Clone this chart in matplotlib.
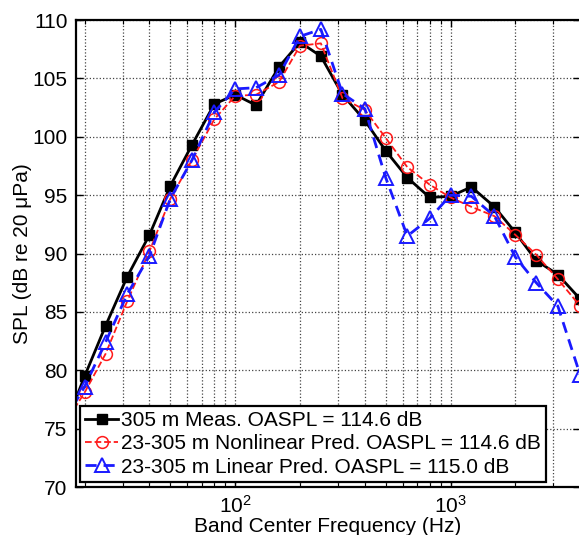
import matplotlib
matplotlib.use("Agg")
import matplotlib.pyplot as plt
from matplotlib.ticker import LogLocator, NullFormatter, MultipleLocator

plt.rcParams["font.family"] = ["Liberation Sans", "DejaVu Sans"]
plt.rcParams["mathtext.fontset"] = "custom"
plt.rcParams["mathtext.rm"] = "Liberation Sans"
plt.rcParams["mathtext.it"] = "Liberation Sans:italic"

# one-third octave band centres (Hz)
freq = [16, 20, 25, 31.5, 40, 50, 63, 80, 100, 125, 160, 200, 250, 315,
        400, 500, 630, 800, 1000, 1250, 1600, 2000, 2500, 3150, 4000]

# band SPL, dB re 20 uPa
meas = [74.9, 79.5, 83.8, 88.0, 91.6, 95.8, 99.3, 102.8, 103.6, 102.7,
        106.0, 108.1, 106.9, 103.6, 101.4, 98.8, 96.5, 94.8, 94.9, 95.7,
        94.0, 91.8, 89.4, 88.2, 86.1]
nonlin = [75.3, 78.1, 81.4, 85.9, 90.2, 94.7, 98.0, 101.5, 103.5, 103.6,
          104.7, 107.8, 108.0, 103.3, 102.3, 99.9, 97.4, 95.9, 94.8, 94.0,
          93.2, 91.6, 89.9, 87.8, 85.5]
lin = [75.6, 78.6, 82.4, 86.5, 89.8, 94.7, 98.0, 102.1, 104.1, 104.2,
       105.3, 108.6, 109.2, 103.7, 102.4, 96.5, 91.5, 93.0, 95.0, 94.9,
       93.2, 89.7, 87.5, 85.5, 79.6]

labels = ["305 m Meas. OASPL = 114.6 dB",
          "23-305 m Nonlinear Pred. OASPL = 114.6 dB",
          "23-305 m Linear Pred. OASPL = 115.0 dB"]

fs = 15

fig = plt.figure(figsize=(5.79, 5.35), dpi=100)
ax = fig.add_axes([0.131, 0.0897, 0.871, 0.8729])

ax.semilogx(freq, meas, "-", color="k", lw=2.0, marker="s", ms=7.5,
            mfc="k", mec="k", label=labels[0])
ax.semilogx(freq, nonlin, "--", color="#ff1a1a", lw=1.3, marker="o", ms=8.5,
            mfc="none", mec="#ff1a1a", mew=1.1, label=labels[1])
ax.semilogx(freq, lin, "--", color="#1a1aff", lw=2.0, dashes=(4, 2.5),
            marker="^", ms=9.5, mfc="none", mec="#1a1aff", mew=1.4,
            label=labels[2])

ax.set_xlim(18.2, 4000)
ax.set_ylim(70, 110)
ax.yaxis.set_major_locator(MultipleLocator(5))
ax.xaxis.set_major_locator(LogLocator(base=10))
ax.xaxis.set_minor_locator(LogLocator(base=10, subs=range(2, 10)))
ax.xaxis.set_minor_formatter(NullFormatter())

ax.grid(True, which="both", axis="x", ls=":", color="#444444", lw=0.9)
ax.grid(True, which="major", axis="y", ls=":", color="#444444", lw=0.9)

ax.tick_params(which="both", direction="in", top=True, right=True,
               labelsize=fs, pad=6)
ax.tick_params(which="major", length=5, width=1)
ax.tick_params(which="minor", length=3, width=0.8)
for s in ax.spines.values():
    s.set_linewidth(1.6)

ax.set_xlabel("Band Center Frequency (Hz)", fontsize=fs, labelpad=0)
ax.set_ylabel("SPL (dB re 20 \u03bcPa)", fontsize=fs, labelpad=0)

leg = ax.legend(loc="lower left", bbox_to_anchor=(0.008, 0.011),
                borderaxespad=0, fontsize=fs, fancybox=False,
                edgecolor="k", framealpha=1, handlelength=1.6,
                handletextpad=0.1, borderpad=0.25, labelspacing=0.2)
leg.get_frame().set_linewidth(1.6)

fig.savefig("out.png", dpi=100)
